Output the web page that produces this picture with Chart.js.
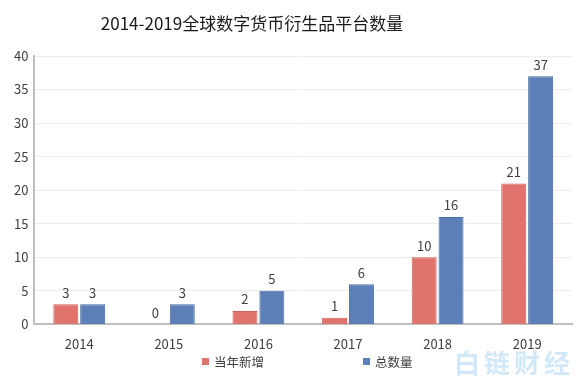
<!DOCTYPE html>
<html>
<head>
<meta charset="utf-8">
<script src="https://cdn.jsdelivr.net/npm/chart.js@4/dist/chart.umd.min.js"></script>
<style>
  html, body { margin: 0; padding: 0; background: #fff; }
  #wrap { position: relative; width: 582px; height: 376px; }
  #mark {
    position: absolute; right: 8px; bottom: -4px;
    font: bold 26px "Noto Sans CJK SC", sans-serif;
    color: rgba(120, 190, 235, 0.35); letter-spacing: 4px;
  }
</style>
</head>
<body>
<div id="wrap">
  <canvas id="chart" width="582" height="376"></canvas>
  <div id="mark">白链财经</div>
</div>
<script>
const years = ['2014', '2015', '2016', '2017', '2018', '2019']
const newCount = [3, 0, 2, 1, 10, 21]
const totalCount = [3, 3, 5, 6, 16, 37]
const seriesNames = ['当年新增', '总数量']
const titleText = '2014-2019全球数字货币衍生品平台数量'

const font = '"Noto Sans CJK SC", "Noto Sans", sans-serif'

// title, legend and the numbers above each bar
const extras = {
    id: 'extras',
    afterDatasetsDraw(chart) {
        const ctx = chart.ctx
        ctx.save()
        ctx.font = '13px ' + font
        ctx.fillStyle = '#404040'
        ctx.textAlign = 'center'
        ctx.textBaseline = 'bottom'
        chart.data.datasets.forEach((ds, i) => {
            chart.getDatasetMeta(i).data.forEach((bar, j) => {
                ctx.fillText(ds.data[j], bar.x, bar.y - 5)
            })
        })

        ctx.font = '17px ' + font
        ctx.fillStyle = '#1a1a1a'
        ctx.textBaseline = 'middle'
        ctx.fillText(titleText, 252, 24)

        ctx.font = '12.5px ' + font
        ctx.textAlign = 'left'
        const xs = [202, 363]
        chart.data.datasets.forEach((ds, i) => {
            ctx.fillStyle = ds.backgroundColor
            ctx.fillRect(xs[i], 358, 7, 7)
            ctx.fillStyle = '#404040'
            ctx.fillText(ds.label, xs[i] + 12, 362)
        })
        ctx.restore()
    }
}

new Chart(document.getElementById('chart'), {
    type: 'bar',
    data: {
        labels: years,
        datasets: [{
            label: seriesNames[0],
            data: newCount,
            backgroundColor: '#E0736B',
            borderColor: '#D0625A',
            borderWidth: 1
        }, {
            label: seriesNames[1],
            data: totalCount,
            backgroundColor: '#5B7FB6',
            borderColor: '#4A6EA5',
            borderWidth: 1
        }]
    },
    options: {
        responsive: false,
        animation: false,
        layout: {padding: {left: 8, right: 10, top: 56, bottom: 20}},
        plugins: {
            legend: {display: false},
            tooltip: {enabled: false}
        },
        scales: {
            x: {
                grid: {display: false},
                border: {color: '#BFBFBF', width: 2},
                ticks: {color: '#404040', padding: 4, font: {family: font, size: 13}}
            },
            y: {
                min: 0,
                max: 40,
                ticks: {stepSize: 5, color: '#404040', padding: 6, font: {family: font, size: 13}},
                grid: {color: '#EDEDED', drawTicks: false},
                border: {color: '#BFBFBF', width: 2}
            }
        },
        barPercentage: 0.93,
        categoryPercentage: 0.6
    },
    plugins: [extras]
})
</script>
</body>
</html>
